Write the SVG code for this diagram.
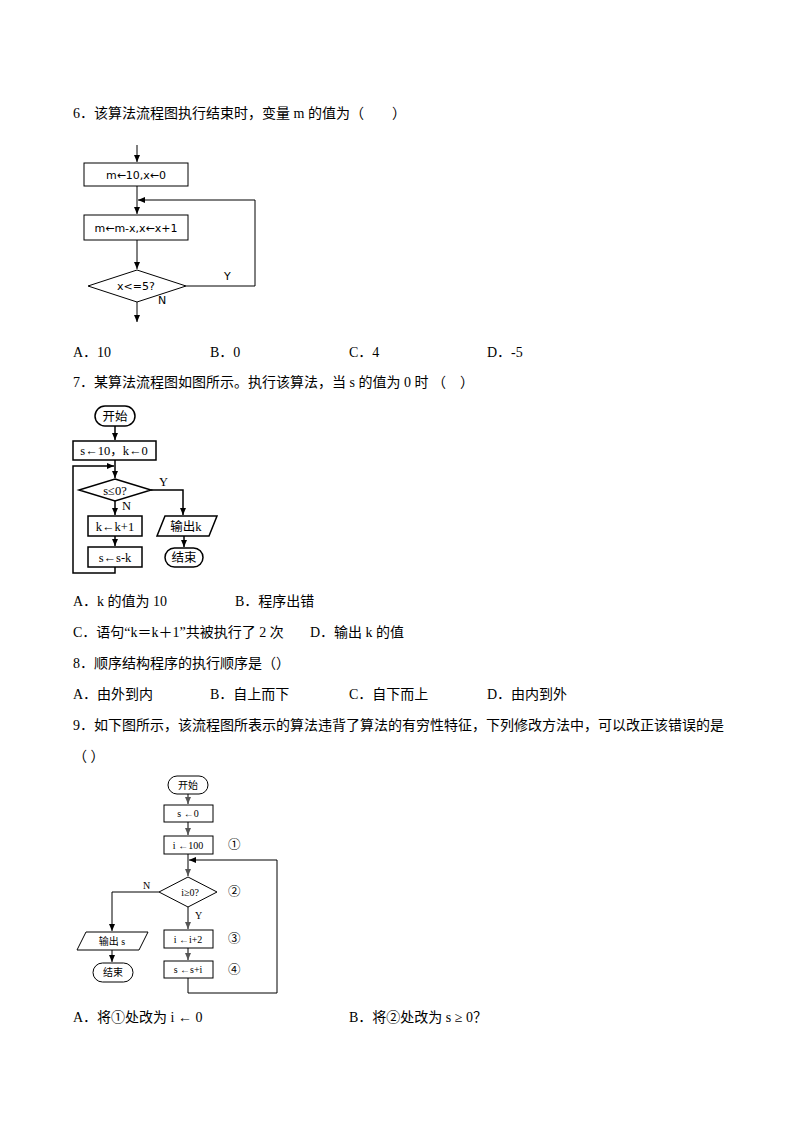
<svg xmlns="http://www.w3.org/2000/svg" width="794" height="1123" viewBox="0 0 794 1123">
<style>
.t{font-family:"Liberation Serif","Noto Sans CJK SC",serif;font-size:14px;fill:#000}
.f{font-family:"DejaVu Sans","Noto Sans CJK SC",sans-serif;font-size:11px;fill:#000}
.g{font-family:"Liberation Serif","Noto Sans CJK SC",serif;font-size:12.5px;fill:#000}
.h{font-family:"Liberation Serif","Noto Sans CJK SC",serif;font-size:10px;fill:#000}
.b{fill:#fff;stroke:#000;stroke-width:1}
.b2{fill:#fff;stroke:#000;stroke-width:1.5}
.l{fill:none;stroke:#000;stroke-width:1}
.l2{fill:none;stroke:#000;stroke-width:1.5}
.l3{fill:none;stroke:#555;stroke-width:1.5}
</style>
<defs>
<marker id="a" markerWidth="8" markerHeight="8" refX="7" refY="4" orient="auto" markerUnits="userSpaceOnUse"><path d="M0,1 L7,4 L0,7 Z" fill="#000"/></marker>
<marker id="ag" markerWidth="8" markerHeight="8" refX="7" refY="4" orient="auto" markerUnits="userSpaceOnUse"><path d="M0,1 L7,4 L0,7 Z" fill="#555"/></marker>
</defs>
<rect width="794" height="1123" fill="#fff"/>
<g id="texts">
<text class="t" x="73" y="118">6．该算法流程图执行结束时，变量 m 的值为（　　）</text>
<text class="t" x="73" y="357">A．10</text><text class="t" x="210" y="357">B．0</text><text class="t" x="349" y="357">C．4</text><text class="t" x="487" y="357">D．-5</text>
<text class="t" x="73" y="387">7．某算法流程图如图所示。执行该算法，当 s 的值为 0 时 （　）</text>
<text class="t" x="73" y="606">A．k 的值为 10</text><text class="t" x="235" y="606">B．程序出错</text>
<text class="t" x="73" y="637">C．语句“k＝k＋1”共被执行了 2 次</text><text class="t" x="310" y="637">D．输出 k 的值</text>
<text class="t" x="73" y="668">8．顺序结构程序的执行顺序是（）</text>
<text class="t" x="73" y="699">A．由外到内</text><text class="t" x="210" y="699">B．自上而下</text><text class="t" x="349" y="699">C．自下而上</text><text class="t" x="487" y="699">D．由内到外</text>
<text class="t" x="73" y="730">9．如下图所示，该流程图所表示的算法违背了算法的有穷性特征，下列修改方法中，可以改正该错误的是</text>
<text class="t" x="73" y="761">（ ）</text>
<text class="t" x="73" y="1022">A．将①处改为 i ← 0</text><text class="t" x="349" y="1022">B．将②处改为 s ≥ 0？</text>
</g>
<g id="connectors">
<path class="l" d="M137,145 V162" marker-end="url(#a)"/>
<path class="l" d="M137,186 V214" marker-end="url(#a)"/>
<path class="l" d="M137,240 V269" marker-end="url(#a)"/>
<path class="l" d="M186,286 H255 V200 H138" marker-end="url(#a)"/>
<path class="l" d="M137,302 V322" marker-end="url(#a)"/>
<path class="l2" d="M115,426 V440" marker-end="url(#a)"/>
<path class="l2" d="M115,460 V478" marker-end="url(#a)"/>
<path class="l2" d="M115,500 V515" marker-end="url(#a)"/>
<path class="l2" d="M115,536 V546" marker-end="url(#a)"/>
<path class="l2" d="M115,567 V573 H73 V466 H114" marker-end="url(#a)"/>
<path class="l2" d="M151,490 H183 V515" marker-end="url(#a)"/>
<path class="l2" d="M184,536 V547" marker-end="url(#a)"/>
<path class="l3" d="M188,794 V804" marker-end="url(#ag)"/>
<path class="l3" d="M188,822 V835" marker-end="url(#ag)"/>
<path class="l3" d="M188,854 V876" marker-end="url(#ag)"/>
<path class="l3" d="M188,907 V929" marker-end="url(#ag)"/>
<path class="l3" d="M188,948 V960" marker-end="url(#ag)"/>
<path class="l" d="M188,978 V993 H277 V860 H189" marker-end="url(#a)"/>
<path class="l" d="M159,892 H112 V931" marker-end="url(#a)"/>
<path class="l" d="M112,950 V962" marker-end="url(#a)"/>
</g>
<g id="d1">
<g id="n1a"><rect class="b" x="84" y="163" width="104" height="23"/><text class="f" x="136" y="179" text-anchor="middle">m←10,x←0</text></g>
<g id="n1b"><rect class="b" x="84" y="215" width="104" height="25"/><text class="f" x="136" y="232" text-anchor="middle">m←m-x,x←x+1</text></g>
<g id="n1c"><path class="b" d="M137,270 L186,286 L137,302 L88,286 Z"/><text class="f" x="136" y="290" text-anchor="middle">x&lt;=5?</text></g>
<text class="f" x="224" y="280">Y</text><text class="f" x="158" y="304">N</text>
</g>
<g id="d2">
<g id="n2a"><rect class="b2" x="95" y="406" width="40" height="20" rx="10"/><text class="g" x="115" y="421" text-anchor="middle">开始</text></g>
<g id="n2b"><rect class="b2" x="73" y="441" width="83" height="19"/><text class="g" x="114" y="455" text-anchor="middle">s←10，k←0</text></g>
<g id="n2c"><path class="b2" d="M115,479 L151,490 L115,501 L79,490 Z"/><text class="g" x="115" y="495" text-anchor="middle">s≤0?</text></g>
<g id="n2d"><rect class="b2" x="88" y="516" width="54" height="20"/><text class="g" x="115" y="531" text-anchor="middle">k←k+1</text></g>
<g id="n2e"><rect class="b2" x="88" y="547" width="54" height="20"/><text class="g" x="115" y="562" text-anchor="middle">s←s-k</text></g>
<g id="n2f"><path class="b2" d="M165,516 H217 L209,536 H157 Z"/><text class="g" x="186" y="531" text-anchor="middle">输出k</text></g>
<g id="n2g"><rect class="b2" x="165" y="548" width="38" height="19" rx="9.5"/><text class="g" x="184" y="562" text-anchor="middle">结束</text></g>
<text class="g" x="159" y="486">Y</text><text class="g" x="122" y="510">N</text>
</g>
<g id="d3">
<g id="n3a"><rect class="b" x="168" y="776" width="40" height="18" rx="9"/><text class="h" x="188" y="789" text-anchor="middle">开始</text></g>
<g id="n3b"><rect class="b" x="164" y="805" width="49" height="17"/><text class="h" x="188" y="817" text-anchor="middle">s ←0</text></g>
<g id="n3c"><rect class="b" x="164" y="836" width="49" height="18"/><text class="h" x="188" y="849" text-anchor="middle">i ←100</text></g>
<g id="n3d"><path class="b" d="M188,877 L217,892 L188,907 L159,892 Z"/><text class="h" x="190" y="896" text-anchor="middle">i≥0?</text></g>
<g id="n3e"><rect class="b" x="164" y="930" width="49" height="18"/><text class="h" x="188" y="943" text-anchor="middle">i ←i+2</text></g>
<g id="n3f"><rect class="b" x="164" y="961" width="49" height="17"/><text class="h" x="188" y="973" text-anchor="middle">s ←s+i</text></g>
<g id="n3g"><path class="b" d="M86,932 H148 L139,950 H77 Z"/><text class="h" x="112" y="945" text-anchor="middle">输出 s</text></g>
<g id="n3h"><rect class="b" x="93" y="963" width="40" height="19" rx="9.5"/><text class="h" x="113" y="976" text-anchor="middle">结束</text></g>
<text class="h" x="143" y="889">N</text><text class="h" x="195" y="919">Y</text>
<text class="g" x="228" y="849">①</text><text class="g" x="228" y="896">②</text><text class="g" x="228" y="943">③</text><text class="g" x="228" y="974">④</text>
</g>
</svg>
